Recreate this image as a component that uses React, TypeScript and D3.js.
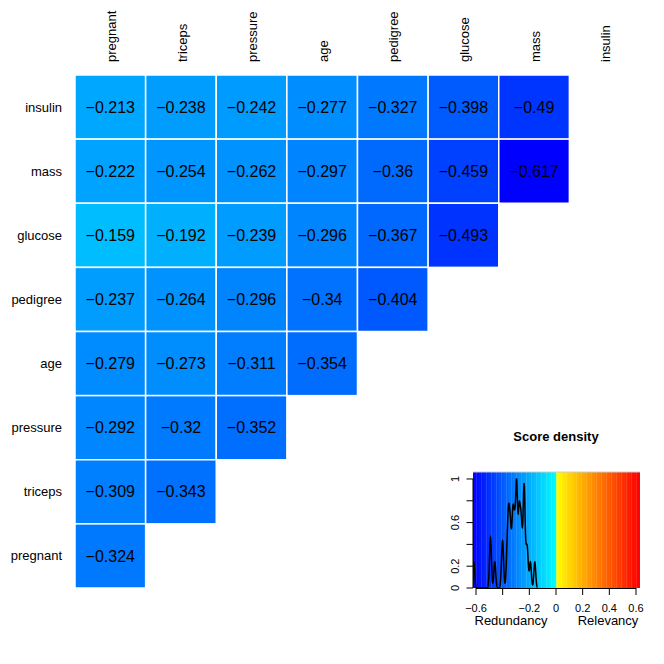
import React from 'react';
import * as d3 from 'd3';

const colVars = ['pregnant', 'triceps', 'pressure', 'age', 'pedigree', 'glucose', 'mass', 'insulin'];
const rowVars = ['insulin', 'mass', 'glucose', 'pedigree', 'age', 'pressure', 'triceps', 'pregnant'];

// one array per row, left to right from "pregnant"
const insulinRow = [-0.213, -0.238, -0.242, -0.277, -0.327, -0.398, -0.49];
const massRow = [-0.222, -0.254, -0.262, -0.297, -0.36, -0.459, -0.617];
const glucoseRow = [-0.159, -0.192, -0.239, -0.296, -0.367, -0.493];
const pedigreeRow = [-0.237, -0.264, -0.296, -0.34, -0.404];
const ageRow = [-0.279, -0.273, -0.311, -0.354];
const pressureRow = [-0.292, -0.32, -0.352];
const tricepsRow = [-0.309, -0.343];
const pregnantRow = [-0.324];

const rowValues = [insulinRow, massRow, glucoseRow, pedigreeRow, ageRow, pressureRow, tricepsRow, pregnantRow];

const xTickValues = [-0.6, -0.4, -0.2, 0, 0.2, 0.4, 0.6];
const xTickLabels = ['−0.6', '', '−0.2', '0', '0.2', '0.4', '0.6'];
const yTickValues = [0, 0.2, 0.4, 0.6, 0.8, 1];
const yTickLabels = ['0', '0.2', '', '0.6', '', '1'];

const FONT = "'Liberation Sans', Arial, Helvetica, sans-serif";
const MAXABS = 0.617;

const fillFor = (v: number) => {
  const t = Math.min(1, Math.abs(v) / MAXABS);
  const g = Math.round(255 * (1 - t));
  return v < 0 ? `rgb(0,${g},255)` : `rgb(255,${g},0)`;
};

const fmt = (v: number) => String(v).replace('-', '−');

export default function App() {
  const x = d3.scaleBand<string>().domain(colVars).range([75, 640]);
  const y = d3.scaleBand<string>().domain(rowVars).range([75, 588]);

  const cells = rowValues.flatMap((vals, i) =>
    vals.map((v, j) => ({ row: rowVars[i], col: colVars[j], v }))
  );
  const allValues = rowValues.flat();

  // density panel
  const dx = d3.scaleLinear().domain([-0.6225, 0.63]).range([473, 640]);
  const dy = d3.scaleLinear().domain([0, 1.064]).range([588, 472]);

  // gaussian kde, evaluated like R's density (cut = 3 bandwidths)
  const bw = 0.007;
  const [lo, hi] = d3.extent(allValues) as [number, number];
  const grid = d3.range(lo - 3 * bw, hi + 3 * bw, 0.0008);
  const raw = grid.map(g => [g, d3.sum(allValues, v => Math.exp(-((g - v) ** 2) / (2 * bw * bw)))] as [number, number]);
  const peak = d3.max(raw, d => d[1]) || 1;
  const dens = raw.map(([g, d]) => [g, d / peak] as [number, number]);
  const line = d3.line<[number, number]>().x(d => dx(d[0])).y(d => dy(d[1]));

  const stripeW = 0.0125;
  const stripes = d3.range(-0.6225, 0.63, stripeW);

  return (
    <svg width={664} height={664} style={{ position: 'absolute', left: 0, top: 0, background: '#fff' }} fontFamily={FONT}>
      {cells.map(c => (
        <g key={c.row + c.col}>
          <rect
            x={x(c.col)}
            y={y(c.row)}
            width={x.bandwidth()}
            height={y.bandwidth()}
            fill={fillFor(c.v)}
            stroke="#fff"
            strokeWidth={1.5}
          />
          <text
            x={(x(c.col) || 0) + x.bandwidth() / 2}
            y={(y(c.row) || 0) + y.bandwidth() / 2}
            dy="0.35em"
            textAnchor="middle"
            fontSize={16}
            fill="#000"
          >
            {fmt(c.v)}
          </text>
        </g>
      ))}

      {rowVars.map(r => (
        <text key={'r' + r} x={62} y={(y(r) || 0) + y.bandwidth() / 2} dy="0.35em" textAnchor="end" fontSize={13}>
          {r}
        </text>
      ))}
      {colVars.map(c => {
        const cx = (x(c) || 0) + x.bandwidth() / 2 + 1;
        return (
          <text key={'c' + c} transform={`translate(${cx},62) rotate(-90)`} dy="0.35em" textAnchor="start" fontSize={13}>
            {c}
          </text>
        );
      })}

      {/* score density */}
      <text x={556} y={436} dy="0.35em" textAnchor="middle" fontSize={13} fontWeight="bold">
        Score density
      </text>
      <defs>
        <clipPath id="dclip">
          <rect x={dx(-0.6225)} y={dy(1.064)} width={dx(0.63) - dx(-0.6225)} height={dy(0) - dy(1.064)} />
        </clipPath>
      </defs>
      <g clipPath="url(#dclip)">
        {stripes.map(s => (
          <rect
            key={s}
            x={dx(s)}
            y={dy(1.064)}
            width={dx(s + stripeW) - dx(s) + 0.3}
            height={dy(0) - dy(1.064)}
            fill={fillFor(s + stripeW / 2 < 0 ? Math.min(s + stripeW / 2, -0.0001) : s + stripeW / 2)}
          />
        ))}
        <path d={line(dens) || ''} fill="none" stroke="#000" strokeWidth={1.5} />
      </g>
      <line x1={dx(-0.6225)} x2={dx(0.63)} y1={dy(1.064)} y2={dy(1.064)} stroke="#ccc" strokeWidth={1} />

      <line x1={dx(-0.6)} x2={dx(0.6)} y1={588.5} y2={588.5} stroke="#000" />
      {xTickValues.map((t, i) => (
        <g key={'xt' + t}>
          <line x1={dx(t)} x2={dx(t)} y1={588} y2={595} stroke="#000" />
          <text x={dx(t)} y={608} dy="0.35em" textAnchor="middle" fontSize={11}>
            {xTickLabels[i]}
          </text>
        </g>
      ))}
      <line x1={473} x2={473} y1={dy(0)} y2={dy(1)} stroke="#000" />
      {yTickValues.map((t, i) => (
        <g key={'yt' + t}>
          <line x1={466.5} x2={473} y1={dy(t)} y2={dy(t)} stroke="#000" />
          <text transform={`translate(455,${dy(t)}) rotate(-90)`} dy="0.35em" textAnchor="middle" fontSize={11}>
            {yTickLabels[i]}
          </text>
        </g>
      ))}
      <text x={511} y={620} dy="0.35em" textAnchor="middle" fontSize={13}>
        Redundancy
      </text>
      <text x={608} y={620} dy="0.35em" textAnchor="middle" fontSize={13}>
        Relevancy
      </text>
    </svg>
  );
}
